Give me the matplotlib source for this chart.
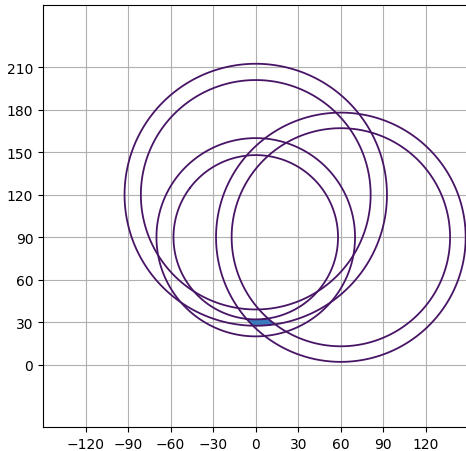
import numpy as np
import matplotlib
matplotlib.use("Agg")
import matplotlib.pyplot as plt

# beacon centres and the inner / outer radii of each ring
cx = [0, 0, 60]
cy = [120, 90, 90]
r_in = [81, 58, 77]
r_out = [92.5, 70, 88]

xs = np.linspace(-160, 160, 1601)
ys = np.linspace(-60, 270, 1601)
X, Y = np.meshgrid(xs, ys)

fig = plt.figure(figsize=(4.66, 4.52), dpi=100)
ax = fig.add_axes([43 / 466, 24 / 452, 425.5 / 466, 422 / 452])

inside = np.ones_like(X, dtype=bool)
for x0, y0, a, b in zip(cx, cy, r_in, r_out):
    D = np.hypot(X - x0, Y - y0)
    ax.contour(X, Y, D, levels=[a, b], colors="#481466", linewidths=1.3, zorder=3)
    inside &= (D >= a) & (D <= b)

ax.contourf(X, Y, inside.astype(float), levels=[0.5, 1.5], colors=["#3c78bc"], zorder=2)

ax.set_xlim(-150, 150)
ax.set_ylim(-44, 254)
ax.set_xticks(np.arange(-120, 121, 30))
ax.set_yticks(np.arange(0, 211, 30))
ax.grid(True, color="#b0b0b0", linewidth=0.8)
ax.set_axisbelow(True)

fig.savefig("out.png", dpi=100)
